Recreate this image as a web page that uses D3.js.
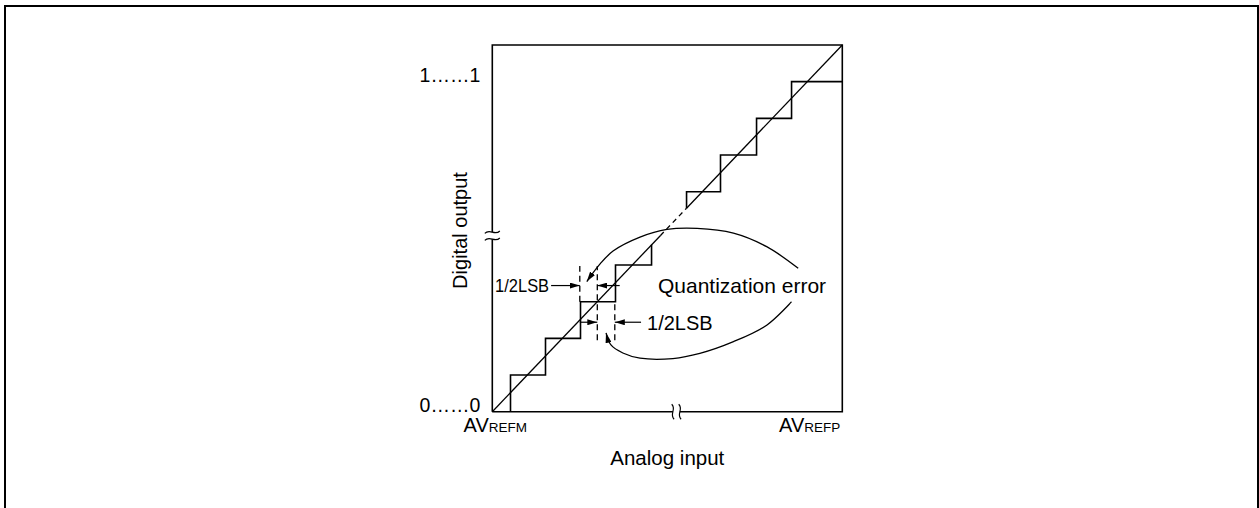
<!DOCTYPE html>
<html><head><meta charset="utf-8">
<script src="https://cdn.jsdelivr.net/npm/d3@7"></script>
<style>
html,body{margin:0;padding:0;background:#fff;}
svg{display:block;}
text{font-family:"Liberation Sans",Arial,Helvetica,sans-serif;fill:#000;}
</style></head><body>
<svg id="chart" width="1259" height="508"></svg>
<script>
// ---------- data (in LSB units) ----------
const inputDomain = [0, 10];
const codeDomain = [0, 10];
const yTickValues = [0, 9];
const yTickLabels = ["0……0", "1……1"];
const xTickLabels = [["AV", "REFM"], ["AV", "REFP"]];
const xAxisTitle = "Analog input";
const yAxisTitle = "Digital output";

// staircase: code transition points
const lowerThresholds = [0.52, 1.52, 2.52, 3.52, 4.55];
const lowerCodes = [0, 1, 2, 3, 4];
const upperThresholds = [5.55, 6.52, 7.55, 8.55];
const upperCodes = [5, 6, 7, 8];

// ideal transfer line segments
const idealFrom = [0, 4.8, 5.55];
const idealTo = [4.8, 5.55, 10];
const idealDashed = [false, true, false];

// axis breaks
const yAxisBreak = 4.8;
const xAxisBreak = 5.26;

// half-LSB guide lines (x, y from, y to)
const guideX = [2.5, 3.0, 3.5];
const guideY0 = [3.0, 1.95, 1.95];
const guideY1 = [3.97, 3.97, 3.0];

// half-LSB arrows (from x, to x, at y)
const arrowFromX = [1.68, 3.64, 2.5, 4.25];
const arrowToX = [2.5, 3.0, 3.0, 3.5];
const arrowY = [3.44, 3.44, 2.44, 2.44];
const lsbLabels = ["1/2LSB", "1/2LSB"];
const quantLabel = "Quantization error";

// callout curves (x, y) in LSB units
const upperCurveX = [2.70, 3.08, 3.45, 4.22, 4.99, 5.85, 6.89, 7.84, 8.74];
const upperCurveY = [3.55, 4.03, 4.38, 4.76, 4.97, 5.00, 4.87, 4.50, 3.91];
const lowerCurveX = [3.25, 3.39, 3.73, 4.22, 5.16, 5.93, 6.89, 7.84, 8.55];
const lowerCurveY = [2.15, 1.82, 1.60, 1.46, 1.45, 1.59, 1.91, 2.36, 3.00];

// ---------- drawing ----------
const svg = d3.select("#chart");
const x = d3.scaleLinear().domain(inputDomain).range([492.3, 842.3]);
const y = d3.scaleLinear().domain(codeDomain).range([411.7, 45]);
const line = d3.line().x(d => x(d[0])).y(d => y(d[1]));

// outer frame
svg.append("rect").attr("x", 5).attr("y", 6).attr("width", 1253).attr("height", 540)
  .attr("fill", "none").attr("stroke", "#000").attr("stroke-width", 2);

// markers
const defs = svg.append("defs");
defs.append("marker").attr("id", "ah").attr("viewBox", "0 0 10 6")
  .attr("refX", 10).attr("refY", 3).attr("markerWidth", 10).attr("markerHeight", 6)
  .attr("markerUnits", "userSpaceOnUse").attr("orient", "auto-start-reverse")
  .append("path").attr("d", "M0,0 L10,3 L0,6 Z").attr("fill", "#000");

// box with axis breaks
const gap = 3.5;
const x0 = x(inputDomain[0]), x1 = x(inputDomain[1]);
const y0 = y(codeDomain[0]), y1 = y(codeDomain[1]);
const yb = y(yAxisBreak), xb = x(xAxisBreak);
const boxPath = d3.path();
boxPath.moveTo(x0, y0); boxPath.lineTo(x0, yb + gap);
boxPath.moveTo(x0, yb - gap); boxPath.lineTo(x0, y1); boxPath.lineTo(x1, y1); boxPath.lineTo(x1, y0); boxPath.lineTo(xb + gap, y0);
boxPath.moveTo(xb - gap, y0); boxPath.lineTo(x0, y0);
svg.append("path").attr("d", boxPath.toString()).attr("fill", "none")
  .attr("stroke", "#000").attr("stroke-width", 1.6);

// break symbols
[yb - gap, yb + gap].forEach(cy => {
  svg.append("path").attr("transform", `translate(${x0},${cy})`)
    .attr("d", "M-7.5,1.2 C-2.5,-4 2.5,4 7.5,-1.2")
    .attr("fill", "none").attr("stroke", "#000").attr("stroke-width", 1.2);
});
[xb - gap, xb + gap].forEach(cx => {
  svg.append("path").attr("transform", `translate(${cx},${y0})`)
    .attr("d", "M-1.2,-7.5 C4,-2.5 -4,2.5 1.2,7.5")
    .attr("fill", "none").attr("stroke", "#000").attr("stroke-width", 1.2);
});

// ideal line
idealFrom.forEach((f, i) => {
  svg.append("path").attr("d", line([[f, f], [idealTo[i], idealTo[i]]]))
    .attr("fill", "none").attr("stroke", "#000").attr("stroke-width", 1.3)
    .attr("stroke-dasharray", idealDashed[i] ? "5,4" : null);
});

// staircases
const lowerPts = [];
lowerThresholds.forEach((t, i) => {
  lowerPts.push([t, lowerCodes[i]]);
  lowerPts.push([t, i === lowerThresholds.length - 1 ? t : lowerCodes[i] + 1]);
});
const upperPts = [];
upperThresholds.forEach((t, i) => {
  upperPts.push([t, i === 0 ? t : upperCodes[i]]);
  upperPts.push([t, upperCodes[i] + 1]);
});
upperPts.push([inputDomain[1], upperCodes[upperCodes.length - 1] + 1]);
[lowerPts, upperPts].forEach(p => {
  svg.append("path").attr("d", line(p)).attr("fill", "none")
    .attr("stroke", "#000").attr("stroke-width", 1.6);
});

// half-LSB dashed guides
guideX.forEach((g, i) => {
  svg.append("path").attr("d", line([[g, guideY0[i]], [g, guideY1[i]]]))
    .attr("fill", "none").attr("stroke", "#000").attr("stroke-width", 1.3)
    .attr("stroke-dasharray", "6,4");
});

// half-LSB arrows
arrowFromX.forEach((fx, i) => {
  svg.append("path").attr("d", line([[fx, arrowY[i]], [arrowToX[i], arrowY[i]]]))
    .attr("fill", "none").attr("stroke", "#000").attr("stroke-width", 1.2)
    .attr("marker-end", "url(#ah)");
});

// callout curves
const curve = d3.line().x(d => x(d[0])).y(d => y(d[1])).curve(d3.curveCatmullRom.alpha(0.5));
[[upperCurveX, upperCurveY], [lowerCurveX, lowerCurveY]].forEach(([cx, cy]) => {
  svg.append("path").attr("d", curve(cx.map((v, i) => [v, cy[i]])))
    .attr("fill", "none").attr("stroke", "#000").attr("stroke-width", 1.3)
    .attr("marker-start", "url(#ah)");
});

// labels
svg.append("text").attr("x", x(arrowFromX[0]) - 2).attr("y", y(arrowY[0]) + 6.5)
  .attr("text-anchor", "end").attr("font-size", 18)
  .attr("textLength", 54).attr("lengthAdjust", "spacingAndGlyphs").text(lsbLabels[0]);
svg.append("text").attr("x", x(arrowFromX[3]) + 6).attr("y", y(arrowY[3]) + 7.5)
  .attr("font-size", 20).text(lsbLabels[1]);
svg.append("text").attr("x", 658).attr("y", 292.5).attr("font-size", 21).text(quantLabel);

// y tick labels via axis
const yAxis = d3.axisLeft(y).tickValues(yTickValues)
  .tickFormat((d, i) => yTickLabels[i]).tickSize(0).tickPadding(12);
const gy = svg.append("g").attr("transform", `translate(${x0},0)`).call(yAxis);
gy.select(".domain").remove();
gy.selectAll("text").attr("dy", "0").attr("font-size", 19.5)
  .attr("font-family", '"Liberation Sans",Arial,Helvetica,sans-serif').attr("fill", "#000");

// x tick labels
const xl = [
  {x: x(inputDomain[0]) + 3, anchor: "middle", parts: xTickLabels[0]},
  {x: x(inputDomain[1]) - 2, anchor: "end", parts: xTickLabels[1]}
];
xl.forEach(l => {
  const t = svg.append("text").attr("x", l.x).attr("y", 432).attr("text-anchor", l.anchor);
  t.append("tspan").attr("font-size", 20).text(l.parts[0]);
  t.append("tspan").attr("font-size", 13.5).text(l.parts[1]);
});

// axis titles
svg.append("text").attr("x", (x0 + x1) / 2).attr("y", 465).attr("text-anchor", "middle")
  .attr("font-size", 20.5).text(xAxisTitle);
svg.append("text").attr("transform", `translate(467,230.5) rotate(-90)`)
  .attr("text-anchor", "middle").attr("font-size", 20).text(yAxisTitle);
</script>
</body></html>
